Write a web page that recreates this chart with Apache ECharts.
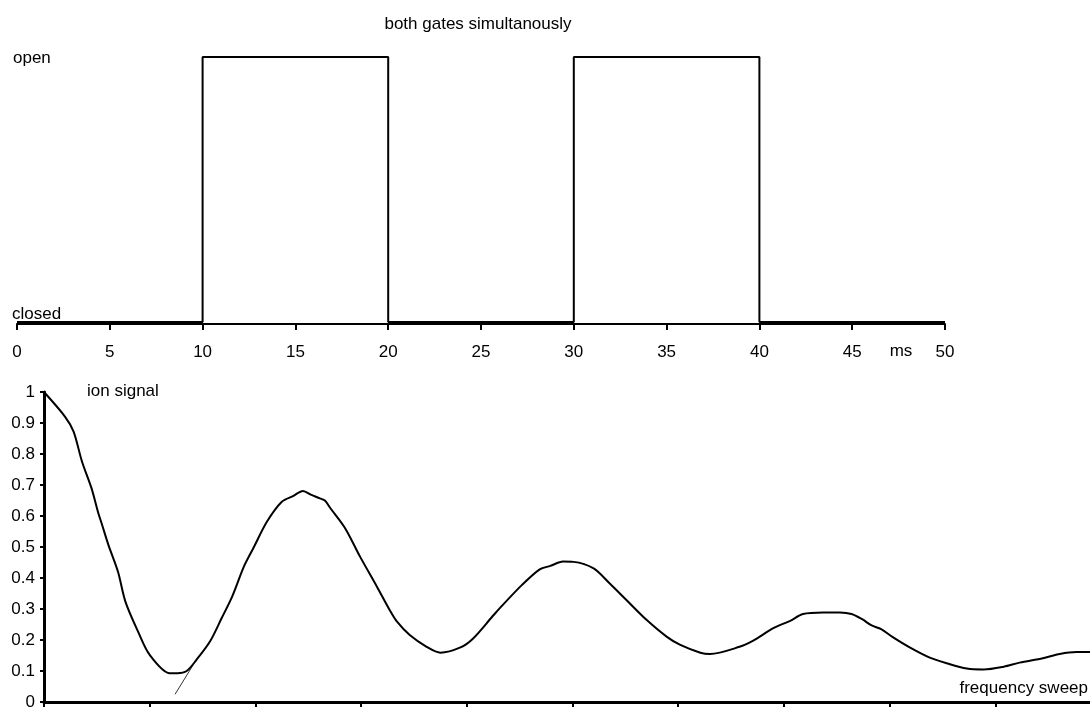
<!DOCTYPE html>
<html>
<head>
<meta charset="utf-8">
<title>both gates simultanously</title>
<script src="https://cdn.jsdelivr.net/npm/echarts@6/dist/echarts.min.js"></script>
<style>
  html, body { margin: 0; padding: 0; background: #fff; }
  #chart { width: 1090px; height: 708px; }
</style>
</head>
<body>
<div id="chart"></div>
<script>
// Gate timing: state 1 = open, 0 = closed, time in ms
const gateTimes  = [0, 10, 10, 20, 20, 30, 30, 40, 40, 50];
const gateStates = [0, 0, 1, 1, 0, 0, 1, 1, 0, 0];

// Ion signal versus frequency sweep (arbitrary sweep units)
const sweepX = [0.00, 0.20, 0.28, 0.36, 0.45, 0.51, 0.55, 0.61, 0.70, 0.77, 0.89, 1.00,
  1.19, 1.26, 1.35, 1.44, 1.57, 1.68, 1.78, 1.89, 1.98, 2.11, 2.25, 2.36, 2.45, 2.53,
  2.61, 2.66, 2.71, 2.85, 2.99, 3.15, 3.27, 3.34, 3.46, 3.62, 3.75, 3.94, 4.06, 4.24,
  4.31, 4.52, 4.69, 4.79, 4.91, 5.01, 5.20, 5.35, 5.51, 5.70, 5.89, 6.02, 6.21, 6.30,
  6.58, 6.71, 6.90, 7.06, 7.18, 7.37, 7.53, 7.64, 7.74, 7.83, 7.92, 8.03, 8.19, 8.38,
  8.54, 8.73, 8.89, 9.08, 9.23, 9.45, 9.61, 9.77, 9.90];
const ionSignal = [1.000, 0.920, 0.872, 0.775, 0.689, 0.614, 0.571, 0.506, 0.420, 0.324, 0.227, 0.152,
  0.093, 0.093, 0.100, 0.135, 0.195, 0.270, 0.340, 0.436, 0.496, 0.582, 0.646, 0.665, 0.681, 0.668,
  0.657, 0.649, 0.625, 0.560, 0.469, 0.372, 0.297, 0.259, 0.216, 0.178, 0.159, 0.176, 0.205, 0.275,
  0.302, 0.377, 0.428, 0.439, 0.453, 0.452, 0.431, 0.383, 0.329, 0.265, 0.211, 0.184, 0.159, 0.155,
  0.178, 0.198, 0.238, 0.262, 0.284, 0.289, 0.289, 0.284, 0.267, 0.247, 0.235, 0.209, 0.176, 0.143,
  0.125, 0.108, 0.105, 0.114, 0.127, 0.141, 0.155, 0.161, 0.161];

// Short thin guide stroke near the first minimum
const guideX = [1.24, 1.41];
const guideY = [0.025, 0.119];

const FONT = '"Liberation Sans", Arial, sans-serif';
const FS = 17;

const chart = echarts.init(document.getElementById('chart'), null, { renderer: 'canvas' });

function note(text, x, y, align) {
  return {
    type: 'text', x: x, y: y,
    style: { text: text, font: FS + 'px ' + FONT, fill: '#000', align: align, verticalAlign: 'middle' }
  };
}

chart.setOption({
  animation: false,
  backgroundColor: '#ffffff',
  textStyle: { fontFamily: FONT, color: '#000' },
  grid: [
    { left: 17, width: 928, top: 57, height: 267, outerBoundsMode: 'none', containLabel: false },
    { left: 44, width: 1057, top: 392, height: 310, outerBoundsMode: 'none', containLabel: false }
  ],
  xAxis: [
    {
      gridIndex: 0, type: 'value', min: 0, max: 50, interval: 5,
      axisLine: { onZero: false, lineStyle: { color: '#000', width: 2 } },
      axisTick: { show: true, inside: false, length: 6, lineStyle: { color: '#000', width: 2 } },
      axisLabel: { color: '#000', fontFamily: FONT, fontSize: FS, margin: 20 },
      splitLine: { show: false }
    },
    {
      gridIndex: 1, type: 'value', min: 0, max: 10, interval: 1,
      axisLine: { onZero: false, lineStyle: { color: '#000', width: 3 } },
      axisTick: { show: true, inside: false, length: 5, lineStyle: { color: '#000', width: 2 } },
      axisLabel: { show: false },
      splitLine: { show: false }
    }
  ],
  yAxis: [
    {
      gridIndex: 0, type: 'value', min: -0.0075, max: 1,
      show: false, splitLine: { show: false }
    },
    {
      gridIndex: 1, type: 'value', min: 0, max: 1, interval: 0.1,
      axisLine: { show: true, onZero: false, lineStyle: { color: '#000', width: 3 } },
      axisTick: { show: true, inside: false, length: 4, lineStyle: { color: '#000', width: 2 } },
      axisLabel: { color: '#000', fontFamily: FONT, fontSize: FS, margin: 9,
        formatter: v => String(Math.round(v * 10) / 10) },
      splitLine: { show: false }
    }
  ],
  series: [
    {
      name: 'gates', type: 'line', xAxisIndex: 0, yAxisIndex: 0,
      data: gateTimes.map((t, i) => [t, gateStates[i]]),
      showSymbol: false, symbol: 'none',
      lineStyle: { color: '#000', width: 2 }
    },
    {
      name: 'ion signal', type: 'line', xAxisIndex: 1, yAxisIndex: 1,
      data: sweepX.map((x, i) => [x, ionSignal[i]]),
      showSymbol: false, symbol: 'none', smooth: 0.3,
      lineStyle: { color: '#000', width: 2 }
    },
    {
      name: 'guide', type: 'line', xAxisIndex: 1, yAxisIndex: 1,
      data: guideX.map((x, i) => [x, guideY[i]]),
      showSymbol: false, symbol: 'none',
      lineStyle: { color: '#000', width: 0.8 }
    }
  ],
  graphic: [
    note('both gates simultanously', 478, 24, 'center'),
    note('open', 13, 58, 'left'),
    note('closed', 12, 314, 'left'),
    note('ms', 901, 351, 'center'),
    note('ion signal', 87, 391, 'left'),
    note('frequency sweep', 1088, 688, 'right')
  ]
});
</script>
</body>
</html>
